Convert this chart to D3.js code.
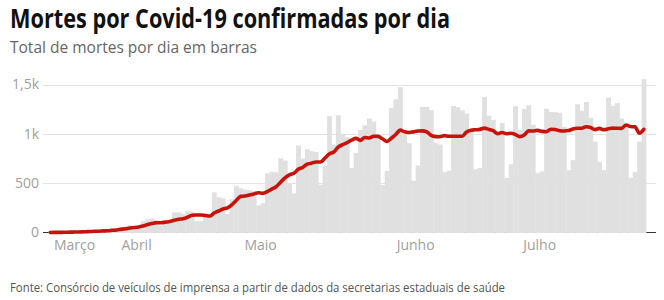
<!DOCTYPE html>
<html><head><meta charset="utf-8">
<script src="https://cdn.jsdelivr.net/npm/d3@7"></script>
<style>
body{margin:0;background:#fff}
svg{display:block}
text{font-family:"Open Sans",sans-serif}
</style>
</head><body>
<svg id="chart" width="664" height="300"></svg>
<script>
const titleText = "Mortes por Covid-19 confirmadas por dia";
const subtitleText = "Total de mortes por dia em barras";
const sourceText = "Fonte: Consórcio de veículos de imprensa a partir de dados da secretarias estaduais de saúde";

const startDate = "2020-03-17";
// daily confirmed deaths, Mar 17 – Jul 29
const dailyDeaths = [
  1,3,3,4,7,7,9,12,11,20,15,19,25,23,42,
  40,58,60,73,54,67,114,133,141,115,68,99,105,204,204,188,217,206,115,113,166,165,407,357,346,189,338,474,449,435,
  428,421,275,296,600,615,610,751,730,496,396,881,749,844,824,816,485,674,1179,888,1188,1001,965,653,807,1039,1086,1156,1124,956,480,
  623,1262,1349,1473,1005,904,525,679,1272,1274,1239,909,892,612,627,1282,1269,1238,1206,1022,641,654,1374,1185,1141,990,1109,552,692,1280,
  1038,1252,1290,1091,602,620,1254,1223,1220,1214,1071,631,733,1300,1233,1322,1163,921,716,632,1367,1284,1311,1156,1100,555,614,921,1554
];
// 7-day average line (red)
const movingAverage = [
  0,1,1,2,3,4,5,6,8,10,12,13,16,18,22,
  26,32,38,46,50,56,67,80,92,100,99,105,111,124,134,140,155,175,177,178,173,167,198,218,238,249,281,325,366,370,
  380,391,403,397,415,439,464,510,554,585,600,640,659,692,703,715,714,753,796,816,865,890,911,935,954,934,963,958,976,974,950,
  923,955,993,1038,1021,1014,1020,1028,1030,1019,985,972,970,982,975,976,976,976,1018,1037,1041,1045,1058,1046,1032,1001,1013,1001,1006,993,
  972,988,1030,1028,1035,1025,1021,1047,1043,1032,1029,1033,1049,1056,1057,1072,1065,1043,1055,1041,1051,1058,1056,1055,1090,1074,1071,1007,1046
];
const yTicks = [0, 500, 1000, 1500];
const yTickLabels = ["0", "500", "1k", "1,5k"];
const monthLabels = ["Março", "Abril", "Maio", "Junho", "Julho"];
const monthLabelDates = ["2020-03-23", "2020-04-06", "2020-05-04", "2020-06-08", "2020-07-06"];

const parse = d3.timeParse("%Y-%m-%d");
const start = parse(startDate);
const data = dailyDeaths.map((v, i) => ({date: d3.timeDay.offset(start, i), value: v, avg: movingAverage[i]}));
const end = d3.timeDay.offset(start, dailyDeaths.length);

const svg = d3.select("#chart");
const x = d3.scaleTime().domain([start, end]).range([48, 646]);
const y = d3.scaleLinear().domain([0, 1500]).range([232.5, 84.5]);

// title block
svg.append("text").attr("x", 10).attr("y", 28).text(titleText)
  .attr("font-size", 26).attr("font-weight", 700).attr("fill", "#111")
  .attr("textLength", 440).attr("lengthAdjust", "spacingAndGlyphs");
svg.append("text").attr("x", 10).attr("y", 53).text(subtitleText)
  .attr("font-size", 16).attr("fill", "#666")
  .attr("textLength", 247).attr("lengthAdjust", "spacingAndGlyphs");
svg.append("text").attr("x", 10).attr("y", 292).text(sourceText)
  .attr("font-size", 12).attr("fill", "#555")
  .attr("textLength", 495).attr("lengthAdjust", "spacingAndGlyphs");

// gridlines
svg.append("g").selectAll("line").data(yTicks.filter(t => t > 0)).join("line")
  .attr("x1", 43).attr("x2", 656)
  .attr("y1", d => Math.round(y(d)) + 0.5).attr("y2", d => Math.round(y(d)) + 0.5)
  .attr("stroke", "#e3e3e3").attr("stroke-width", 1);

// baseline
svg.append("line").attr("x1", 43).attr("x2", 656)
  .attr("y1", y(0)).attr("y2", y(0)).attr("stroke", "#333").attr("stroke-width", 1);

// y labels
svg.append("g").selectAll("text").data(yTicks).join("text")
  .attr("x", 39).attr("y", d => y(d)).attr("dy", "0.35em")
  .attr("text-anchor", "end").attr("font-size", 14).attr("fill", "#a0a0a0")
  .text((d, i) => yTickLabels[i]);

// bars
svg.append("g").selectAll("rect").data(data).join("rect")
  .attr("x", d => x(d.date))
  .attr("width", d => x(d3.timeDay.offset(d.date, 1)) - x(d.date) + 0.4)
  .attr("y", d => y(d.value))
  .attr("height", d => y(0) - y(d.value) + 0.5)
  .attr("fill", "#e0e0e0");

// red moving-average line
const bw = x(d3.timeDay.offset(start, 1)) - x(start);
const line = d3.line()
  .x(d => x(d.date) + bw / 2)
  .y(d => y(d.avg))
  .curve(d3.curveMonotoneX);
svg.append("path").datum(data).attr("d", line)
  .attr("fill", "none").attr("stroke", "#c8120c").attr("stroke-width", 3.6)
  .attr("stroke-linejoin", "round").attr("stroke-linecap", "round");

// month labels
svg.append("g").selectAll("text").data(monthLabelDates).join("text")
  .attr("x", d => x(parse(d))).attr("y", 250)
  .attr("text-anchor", "middle").attr("font-size", 14).attr("fill", "#a0a0a0")
  .text((d, i) => monthLabels[i]);
</script>
</body></html>
